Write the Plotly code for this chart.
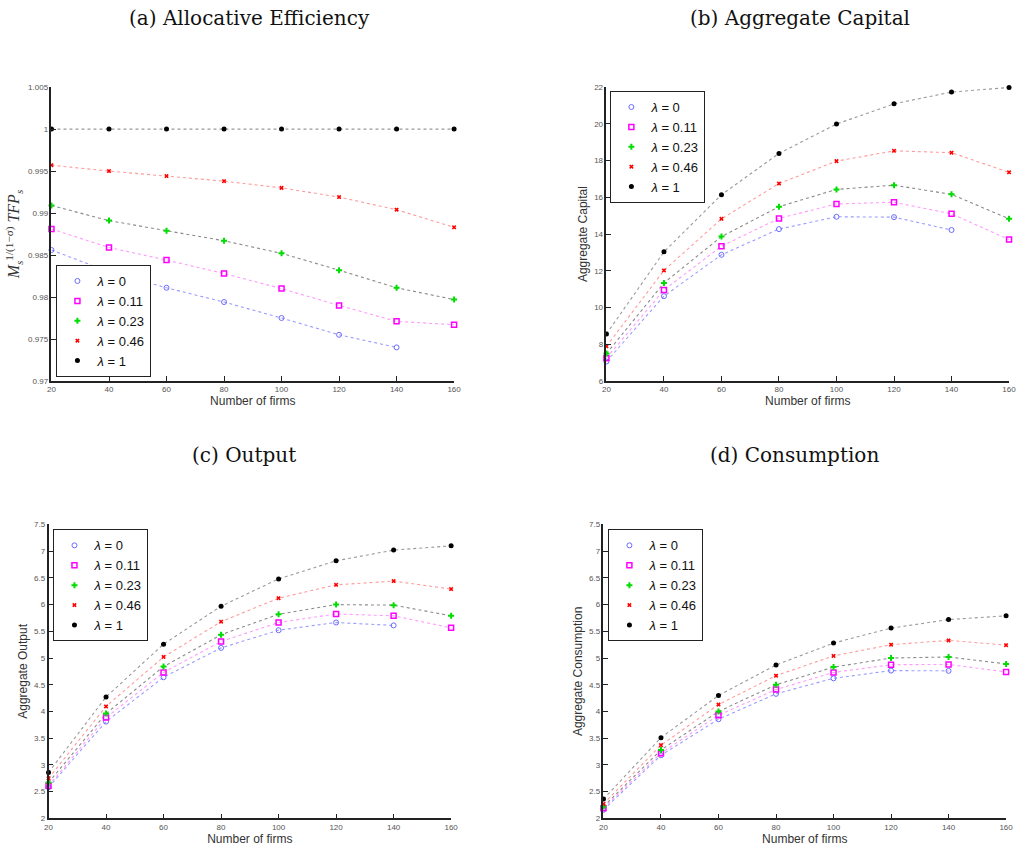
import plotly.graph_objects as go

# ---------------- data ----------------
firms = [20, 40, 60, 80, 100, 120, 140, 160]
lambda_labels = ["0", "0.11", "0.23", "0.46", "1"]

eff_l0 = [0.9856, 0.9830, 0.9811, 0.9794, 0.9775, 0.9755, 0.9740, None]
eff_l011 = [0.9881, 0.9859, 0.9844, 0.9828, 0.9810, 0.9790, 0.9771, 0.9767]
eff_l023 = [0.9909, 0.9891, 0.9879, 0.9867, 0.9852, 0.9832, 0.9811, 0.9797]
eff_l046 = [0.9957, 0.9950, 0.9944, 0.9938, 0.9930, 0.9919, 0.9904, 0.9883]
eff_l1 = [1.0, 1.0, 1.0, 1.0, 1.0, 1.0, 1.0, 1.0]

cap_l0 = [7.06, 10.62, 12.87, 14.27, 14.94, 14.92, 14.22, None]
cap_l011 = [7.25, 10.95, 13.34, 14.85, 15.64, 15.73, 15.10, 13.70]
cap_l023 = [7.49, 11.34, 13.86, 15.49, 16.43, 16.66, 16.16, 14.83]
cap_l046 = [7.89, 12.02, 14.83, 16.75, 17.97, 18.53, 18.43, 17.36]
cap_l1 = [8.56, 13.03, 16.14, 18.39, 19.99, 21.09, 21.73, 21.98]

out_l0 = [2.58, 3.81, 4.64, 5.19, 5.52, 5.665, 5.61, None]
out_l011 = [2.61, 3.885, 4.73, 5.31, 5.665, 5.825, 5.79, 5.565]
out_l023 = [2.67, 3.96, 4.84, 5.435, 5.82, 6.00, 5.99, 5.79]
out_l046 = [2.75, 4.095, 5.02, 5.68, 6.12, 6.37, 6.44, 6.29]
out_l1 = [2.86, 4.27, 5.26, 5.97, 6.48, 6.82, 7.02, 7.10]

con_l0 = [2.16, 3.18, 3.855, 4.33, 4.62, 4.765, 4.76, None]
con_l011 = [2.19, 3.22, 3.93, 4.41, 4.73, 4.875, 4.88, 4.74]
con_l023 = [2.22, 3.28, 4.00, 4.50, 4.83, 5.00, 5.02, 4.89]
con_l046 = [2.27, 3.37, 4.13, 4.67, 5.04, 5.25, 5.33, 5.24]
con_l1 = [2.36, 3.51, 4.30, 4.87, 5.28, 5.56, 5.72, 5.79]

x_ticks = [20, 40, 60, 80, 100, 120, 140, 160]
eff_ticks = [0.97, 0.975, 0.98, 0.985, 0.99, 0.995, 1.0, 1.005]
eff_ticktext = ["0.97", "0.975", "0.98", "0.985", "0.99", "0.995", "1", "1.005"]
cap_ticks = [6, 8, 10, 12, 14, 16, 18, 20, 22]
out_ticks = [2, 2.5, 3, 3.5, 4, 4.5, 5, 5.5, 6, 6.5, 7, 7.5]
out_ticktext = ["2", "2.5", "3", "3.5", "4", "4.5", "5", "5.5", "6", "6.5", "7", "7.5"]

panel_titles = ["(a) Allocative Efficiency", "(b) Aggregate Capital", "(c) Output", "(d) Consumption"]

# ---------------- styles ----------------
marker_styles = [
    dict(symbol="circle-open", color="#6b6bff", size=5, line=dict(width=1, color="#6b6bff")),
    dict(symbol="square-open", color="#ff00ff", size=5, line=dict(width=1.5, color="#ff00ff")),
    dict(symbol="cross", color="#00dd00", size=5, line=dict(width=0)),
    dict(symbol="x", color="#ff0000", size=4, line=dict(width=0)),
    dict(symbol="circle", color="#000000", size=5, line=dict(width=0)),
]
line_colors = ["#9a9aff", "#ff9aff", "#8a8a8a", "#ff9a9a", "#9a9a9a"]

W, H = 1020, 854
def xd(a, b):
    return [a / W, b / W]
def yd(top, bot):
    return [1 - bot / H, 1 - top / H]

panels = [
    dict(series=[eff_l0, eff_l011, eff_l023, eff_l046, eff_l1], xdom=xd(48, 455), ydom=yd(84, 381),
         yrange=[0.97, 1.005], yticks=eff_ticks, yticktext=eff_ticktext,
         ytitle="<i>M</i><sub><i>s</i></sub><sup>1/(1−σ)</sup> <i>TFP</i><sub><i>s</i></sub>",
         legend_pos=(53, 377), legend_anchor="bottom", title_pos=(248, 14)),
    dict(series=[cap_l0, cap_l011, cap_l023, cap_l046, cap_l1], xdom=xd(609, 1016), ydom=yd(84, 381),
         yrange=[6, 22], yticks=cap_ticks, yticktext=[str(v) for v in cap_ticks],
         ytitle="Aggregate Capital", legend_pos=(613, 88), legend_anchor="top", title_pos=(805, 14)),
    dict(series=[out_l0, out_l011, out_l023, out_l046, out_l1], xdom=xd(45, 452), ydom=yd(526, 823),
         yrange=[2, 7.5], yticks=out_ticks, yticktext=out_ticktext,
         ytitle="Aggregate Output", legend_pos=(50, 531), legend_anchor="top", title_pos=(243, 456)),
    dict(series=[con_l0, con_l011, con_l023, con_l046, con_l1], xdom=xd(606, 1013), ydom=yd(526, 823),
         yrange=[2, 7.5], yticks=out_ticks, yticktext=out_ticktext,
         ytitle="Aggregate Consumption", legend_pos=(611, 531), legend_anchor="top", title_pos=(799, 456)),
]

fig = go.Figure()
layout = dict(
    width=W, height=H, margin=dict(l=0, r=0, t=0, b=0),
    paper_bgcolor="white", plot_bgcolor="white", showlegend=True,
    font=dict(family="Liberation Sans, Arial, sans-serif", color="#333"),
)
annotations = []

for i, p in enumerate(panels):
    n = "" if i == 0 else str(i + 1)
    xa, ya = "x" + n, "y" + n
    leg = "legend" + n
    for j, ser in enumerate(p["series"]):
        fig.add_trace(go.Scatter(
            x=firms, y=ser, mode="lines", xaxis=xa, yaxis=ya,
            line=dict(color=line_colors[j], width=1.1, dash="dot"),
            showlegend=False, hoverinfo="skip", cliponaxis=False,
        ))
    for j, ser in enumerate(p["series"]):
        fig.add_trace(go.Scatter(
            x=firms, y=ser, mode="markers", xaxis=xa, yaxis=ya,
            marker=marker_styles[j], name="<i>λ</i> = " + lambda_labels[j],
            legend=leg, cliponaxis=False,
        ))
    axis_common = dict(
        showline=True, linecolor="#222", linewidth=1.5, ticks="inside", ticklen=5,
        tickcolor="#222", tickwidth=1, showgrid=False, zeroline=False, mirror=False,
        tickfont=dict(size=8, color="#555"),
    )
    layout["xaxis" + n] = dict(
        axis_common, domain=p["xdom"], range=[20, 160], tickvals=x_ticks,
        anchor=ya, title=dict(text="Number of firms", font=dict(size=12, color="#333"), standoff=2),
    )
    yt_font = dict(size=12, color="#333")
    if i == 0:
        yt_font = dict(size=16, color="#333", family="Liberation Serif, serif")
    layout["yaxis" + n] = dict(
        axis_common, domain=p["ydom"], range=p["yrange"], tickvals=p["yticks"],
        ticktext=p["yticktext"], anchor=xa,
        title=dict(text=p["ytitle"], font=yt_font, standoff=4),
    )
    lx, ly = p["legend_pos"]
    layout[leg] = dict(
        x=lx / W, y=1 - ly / H, xanchor="left", yanchor=p["legend_anchor"],
        bgcolor="white", bordercolor="#222", borderwidth=1,
        font=dict(size=13, color="#111", family="Liberation Sans, Arial, sans-serif"),
        tracegroupgap=0, itemwidth=30,
    )
    tx, ty = p["title_pos"]
    annotations.append(dict(
        text=panel_titles[i], x=tx / W, y=1 - ty / H, xref="paper", yref="paper",
        xanchor="center", yanchor="middle", showarrow=False,
        font=dict(size=20, color="#111", family="DejaVu Serif, serif"),
    ))

layout["annotations"] = annotations
fig.update_layout(**layout)
fig.write_html("out.html")
